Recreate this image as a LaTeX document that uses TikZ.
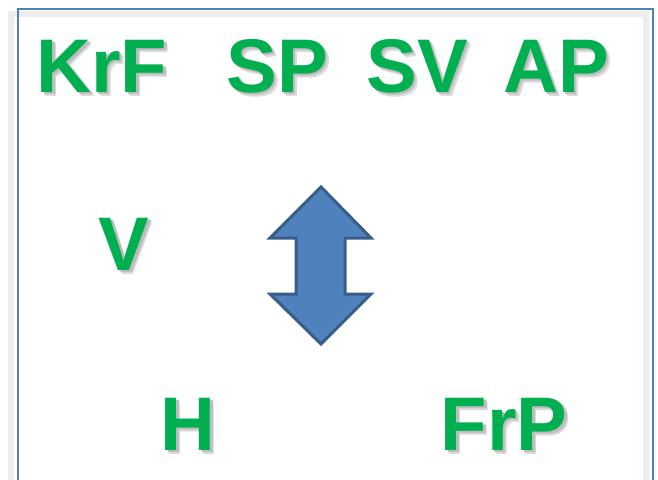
\documentclass[tikz,border=0pt]{standalone}
\usepackage{fontspec}
\setmainfont{Liberation Sans}
\definecolor{textgreen}{HTML}{00B050}
\definecolor{framblue}{HTML}{4F81BD}
\definecolor{arrowfill}{HTML}{4F81BD}
\definecolor{arrowline}{HTML}{385D8A}
% green letters with a soft grey shadow
\newcommand{\shadowed}[1]{%
  \makebox[0pt][l]{\kern4pt\raisebox{-4pt}{\color{black!14}#1}}%
  \makebox[0pt][l]{\kern2.5pt\raisebox{-2.5pt}{\color{black!26}#1}}%
  {\color{textgreen}#1}}
\begin{document}
\begin{tikzpicture}[x=1pt, y=1pt,
  label/.style={anchor=base, inner sep=0pt,
    font=\fontsize{76}{76}\bfseries\selectfont}]

  \useasboundingbox (0, 0) rectangle (658, -479);

  % frame with its shadow
  \draw[line width=6pt, black!7] (11, -14) rectangle (646, -520);
  \draw[line width=1.2pt, framblue] (18, -9) rectangle (653, -520);

  % top row
  \node (krf) at (102, -92) [label] {\shadowed{KrF}};
  \node (sp) at (277, -92) [label] {\shadowed{SP}};
  \node (sv) at (417, -92) [label] {\shadowed{SV}};
  \node (ap) at (556, -92) [label] {\shadowed{AP}};

  % middle
  \node (v) at (124, -270) [label] {\shadowed{V}};

  % up-down arrow
  \draw[line width=3pt, line join=miter, arrowline, fill=arrowfill]
    (321, -187) -- (371, -238) -- (345, -238) -- (345, -294)
    -- (371, -294) -- (321, -344) -- (270, -294) -- (296, -294)
    -- (296, -238) -- (270, -238) -- cycle;

  % bottom row
  \node (h) at (188, -450) [label] {\shadowed{H}};
  \node (frp) at (504, -450) [label] {\shadowed{FrP}};

\end{tikzpicture}
\end{document}
